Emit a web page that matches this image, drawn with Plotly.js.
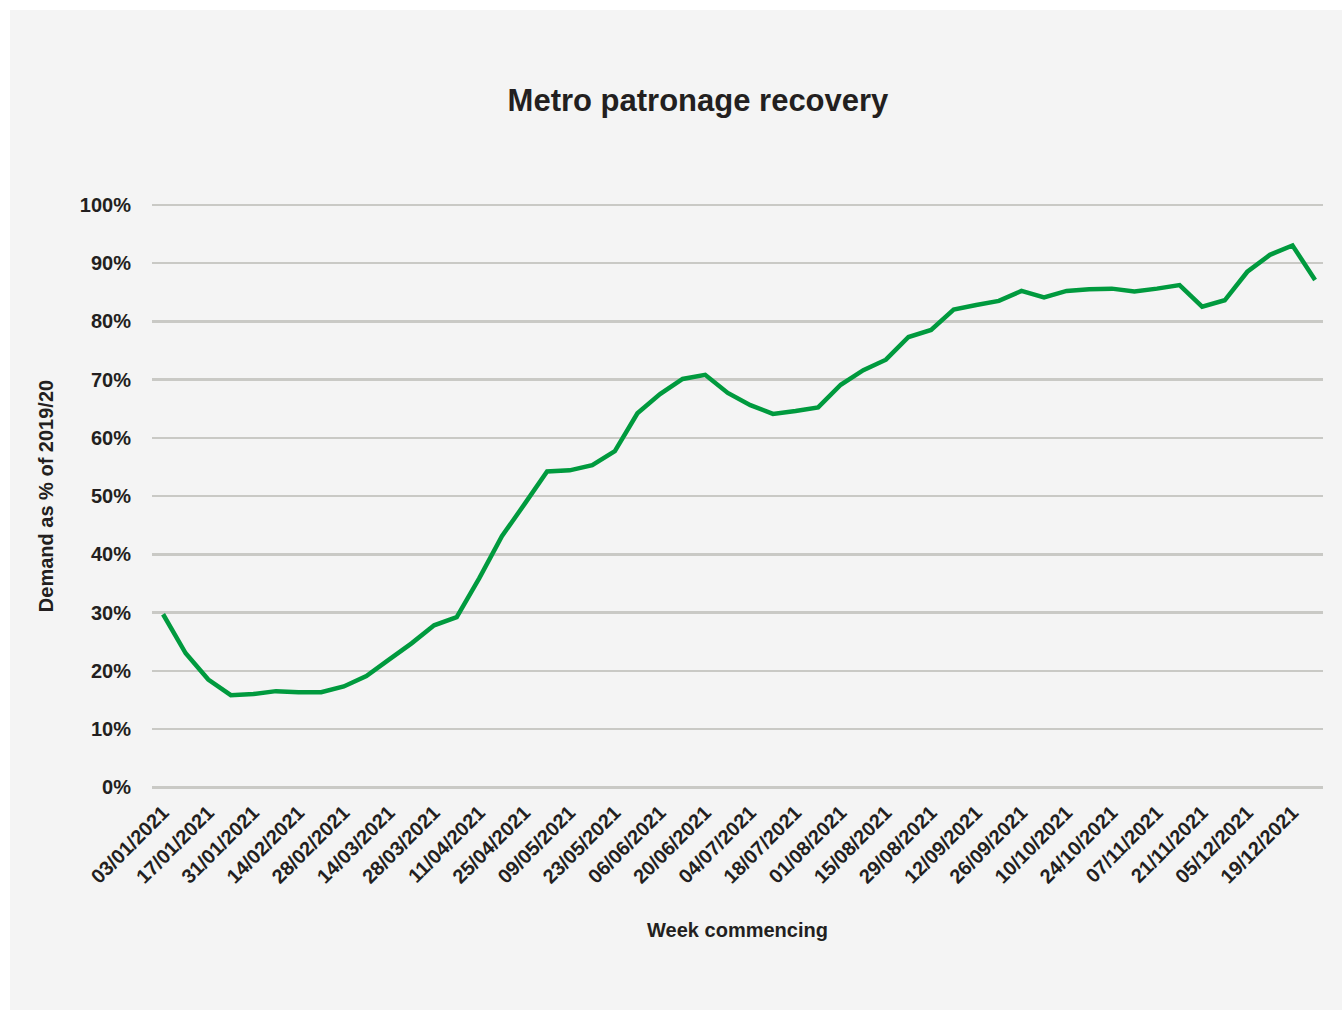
<!DOCTYPE html>
<html>
<head>
<meta charset="utf-8">
<script src="https://cdn.plot.ly/plotly-3.0.1.min.js"></script>
<style>
  html, body { margin: 0; padding: 0; background: #ffffff; width: 1342px; height: 1010px; overflow: hidden; }
  #chart { position: absolute; left: 10px; top: 10px; width: 1332px; height: 1000px; }
</style>
</head>
<body>
<div id="chart"></div>
<script>
const weeks = [
  "03/01/2021","10/01/2021","17/01/2021","24/01/2021","31/01/2021","07/02/2021","14/02/2021","21/02/2021",
  "28/02/2021","07/03/2021","14/03/2021","21/03/2021","28/03/2021","04/04/2021","11/04/2021","18/04/2021",
  "25/04/2021","02/05/2021","09/05/2021","16/05/2021","23/05/2021","30/05/2021","06/06/2021","13/06/2021",
  "20/06/2021","27/06/2021","04/07/2021","11/07/2021","18/07/2021","25/07/2021","01/08/2021","08/08/2021",
  "15/08/2021","22/08/2021","29/08/2021","05/09/2021","12/09/2021","19/09/2021","26/09/2021","03/10/2021",
  "10/10/2021","17/10/2021","24/10/2021","31/10/2021","07/11/2021","14/11/2021","21/11/2021","28/11/2021",
  "05/12/2021","12/12/2021","19/12/2021","26/12/2021"
];
const demandPct = [
  29.7, 23.0, 18.5, 15.8, 16.0, 16.5, 16.3, 16.3, 17.3, 19.1,
  21.9, 24.7, 27.8, 29.2, 35.9, 43.1, 48.6, 54.2, 54.4, 55.3,
  57.7, 64.2, 67.5, 70.1, 70.8, 67.7, 65.6, 64.1, 64.6, 65.2,
  69.1, 71.6, 73.4, 77.3, 78.5, 82.0, 82.8, 83.5, 85.2, 84.1,
  85.2, 85.5, 85.6, 85.1, 85.6, 86.2, 82.5, 83.6, 88.5, 91.4,
  93.0, 87.1
];
const xTickLabels = [
  "03/01/2021","17/01/2021","31/01/2021","14/02/2021","28/02/2021","14/03/2021","28/03/2021","11/04/2021",
  "25/04/2021","09/05/2021","23/05/2021","06/06/2021","20/06/2021","04/07/2021","18/07/2021","01/08/2021",
  "15/08/2021","29/08/2021","12/09/2021","26/09/2021","10/10/2021","24/10/2021","07/11/2021","21/11/2021",
  "05/12/2021","19/12/2021"
];
const yTickVals = [0,10,20,30,40,50,60,70,80,90,100];
const yTickText = ["0%","10%","20%","30%","40%","50%","60%","70%","80%","90%","100%"];

const FONT = "Liberation Sans, Arial, sans-serif";
const TXT = "#231f20";

const trace = {
  type: "scatter",
  mode: "lines",
  x: weeks,
  y: demandPct,
  line: { color: "#009a3e", width: 4.5 },
  hoverinfo: "x+y"
};

const layout = {
  width: 1332,
  height: 1000,
  paper_bgcolor: "#f4f4f4",
  plot_bgcolor: "#f4f4f4",
  margin: { l: 142, r: 19, t: 193, b: 221 },
  showlegend: false,
  font: { family: FONT, color: TXT },
  title: {
    text: "<b>Metro patronage recovery</b>",
    font: { family: FONT, size: 31, color: TXT },
    xref: "container", yref: "container",
    x: 0.5165, xanchor: "center",
    y: 0.91, yanchor: "middle"
  },
  xaxis: {
    type: "category",
    categoryorder: "array",
    categoryarray: weeks,
    range: [-0.49, 51.35],
    tickmode: "array",
    tickvals: xTickLabels,
    ticktext: xTickLabels.map(t => "<b>" + t + "</b>"),
    tickangle: -45,
    tickfont: { family: FONT, size: 20, color: TXT },
    ticks: "outside", ticklen: 3, tickcolor: "rgba(0,0,0,0)",
    showgrid: false, zeroline: false, showline: false,
    title: {
      text: "<b>Week commencing</b>",
      font: { family: FONT, size: 20, color: TXT },
      standoff: 36
    }
  },
  yaxis: {
    range: [-0.3, 100.3],
    tickmode: "array",
    tickvals: yTickVals,
    ticktext: yTickText.map(t => "<b>" + t + "</b>"),
    tickfont: { family: FONT, size: 20, color: TXT },
    ticks: "outside", ticklen: 16, tickcolor: "rgba(0,0,0,0)",
    showgrid: true, gridcolor: "#c9c9c5", gridwidth: 2.5,
    zeroline: false, showline: false,
    title: {
      text: "<b>Demand as % of 2019/20</b>",
      font: { family: FONT, size: 20, color: TXT },
      standoff: 20
    }
  }
};

Plotly.newPlot("chart", [trace], layout, { displayModeBar: false, staticPlot: true });
</script>
</body>
</html>
